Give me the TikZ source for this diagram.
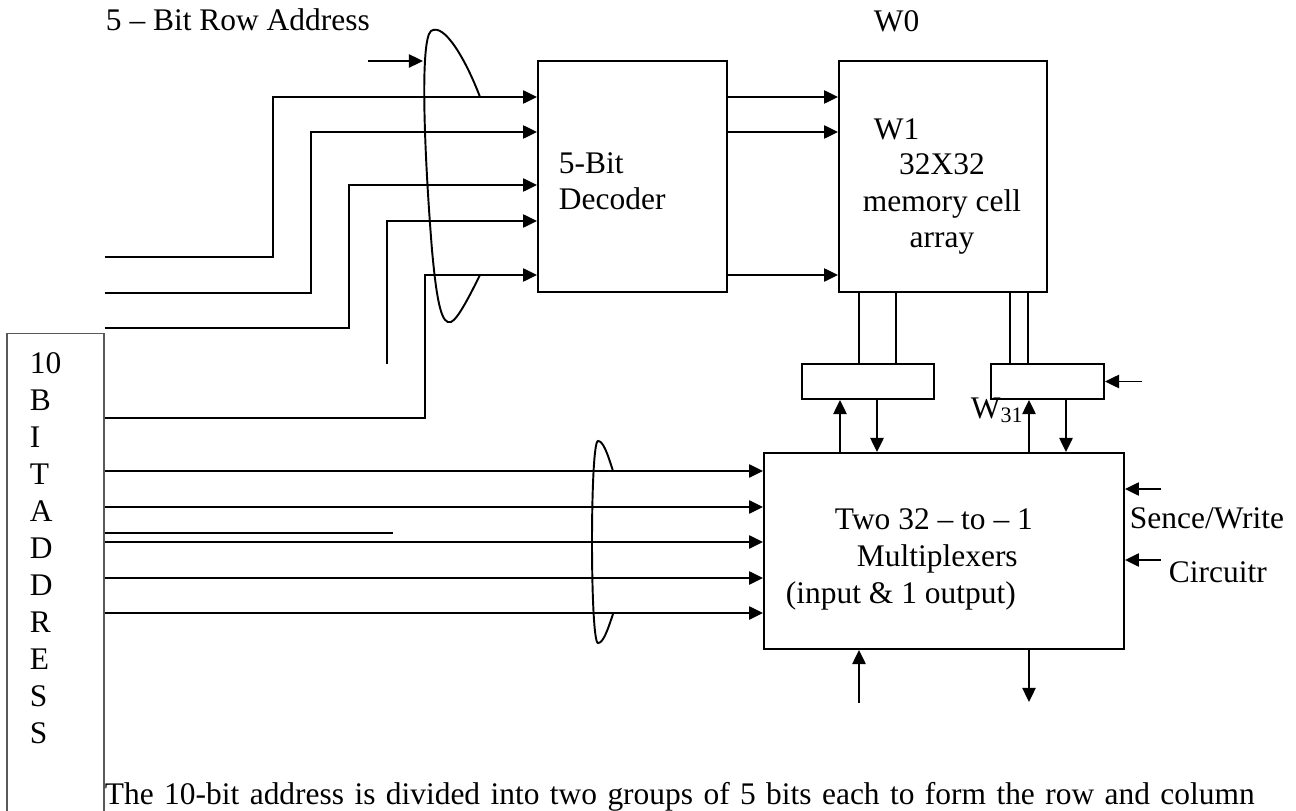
\documentclass[tikz,border=0pt]{standalone}
\usepackage{fontspec}
\setmainfont{Liberation Serif}
\usetikzlibrary{arrows.meta}

\begin{document}
\begin{tikzpicture}[
    x=0.02cm, y=-0.02cm,
    font=\fontsize{17.9}{21}\selectfont,
    line width=1.1pt,
    box/.style={rectangle, draw, minimum height=4.62cm, inner sep=0pt},
    smallbox/.style={rectangle, draw, minimum height=0.7cm, inner sep=0pt},
    arrow/.style={-{Triangle[length=8pt, width=7.5pt]}},
    lbl/.style={anchor=base west, inner sep=0pt}
]
\useasboundingbox (0,0) rectangle (1296,811);

% ==================== ADDRESS REGISTER ====================
\node[rectangle, draw=black!65, line width=0.6pt, minimum width=1.94cm, minimum height=9.94cm] (addr) at (55.5,581.5) {};
\foreach \ch [count=\i from 0] in {10,B,I,T,A,D,D,R,E,S,S}
    \node[lbl] at (29,373+37*\i) {\ch};

% ==================== BLOCKS ====================
\node[box, minimum width=3.78cm] (dec) at (632.5,176.5) {};
\node[box, minimum width=4.16cm] (mem) at (943,176.5) {};
\node[smallbox, minimum width=2.64cm] (sa0) at (868,381.5) {};
\node[smallbox, minimum width=2.26cm] (sa31) at (1047.5,381.5) {};
\node[box, minimum width=7.2cm, minimum height=3.92cm] (mux) at (944,551) {};

% ==================== LABELS ====================
% (base of a multi-line node = its last line)
\node[lbl] (rowlbl) at (105,31) {5 -- Bit Row Address};
\node[lbl] (w0) at (873,32) {W0};
\node[lbl] (w1) at (873,140) {W1};
\node[lbl, align=left] (dectxt) at (558,210) {5-Bit\\Decoder};
\node[lbl, anchor=base, align=center] (memtxt) at (942,248) {32X32\\memory cell\\array};
\node[lbl] (w31) at (970,418) {W\textsubscript{31}};
\node[lbl] (muxa) at (834,529) {Two 32 -- to -- 1};
\node[lbl] (muxb) at (856,566) {Multiplexers};
\node[lbl] (muxc) at (785,603) {(input \& 1 output)};
\node[lbl] (swlbl) at (1129,528) {Sence/Write};
\node[lbl] (crlbl) at (1168,582) {Circuitr};
\node[lbl] (note) at (104,804) {\makebox[23cm][s]{The 10-bit address is divided into two groups of 5 bits each to form the row and column}};

% ==================== ROW ADDRESS ====================
\coordinate (rin) at (368,61);
\coordinate (r4) at (387,364);
\draw[arrow] (rin) -- (423,61);
\draw[arrow] (addr.east |- 0,257) -| (273,97) -- (dec.west |- 0,97);
\draw[arrow] (addr.east |- 0,293) -| (311,132) -- (dec.west |- 0,132);
\draw[arrow] (addr.east |- 0,328) -| (349,185) -- (dec.west |- 0,185);
\draw[arrow] (r4) |- (dec.west |- 0,221);
\draw[arrow] (addr.east |- 0,418) -| (425,275) -- (dec.west |- 0,275);
% bundle loop
\draw (480,97) .. controls (466,60) and (444,22) .. (431,31)
      .. controls (420,40) and (424,150) .. (432,250)
      .. controls (437,305) and (442,325) .. (451,322)
      .. controls (458,319) and (470,295) .. (480,275);

% decoder to array
\foreach \y in {97,132,275}
    \draw[arrow] (dec.east |- 0,\y) -- (mem.west |- 0,\y);

% ==================== COLUMN ADDRESS ====================
\foreach \y in {471,507,542,578,613}
    \draw[arrow] (addr.east |- 0,\y) -- (mux.west |- 0,\y);
\draw (addr.east |- 0,533) -- (393,533);
\draw (613,471) .. controls (607,452) and (603,441) .. (598,441)
      .. controls (590,441) and (590,643) .. (598,643)
      .. controls (603,643) and (607,632) .. (613,614);

% ==================== ARRAY / MUX ====================
\foreach \x in {859,896}
    \draw (\x,0 |- mem.south) -- (\x,0 |- sa0.north);
\foreach \x in {1010,1028}
    \draw (\x,0 |- mem.south) -- (\x,0 |- sa31.north);
\draw[arrow] (840,0 |- mux.north) -- (840,0 |- sa0.south);
\draw[arrow] (877,0 |- sa0.south) -- (877,0 |- mux.north);
\draw[arrow] (1029,0 |- mux.north) -- (1029,0 |- sa31.south);
\draw[arrow] (1066,0 |- sa31.south) -- (1066,0 |- mux.north);

\coordinate (ctl) at (1142,381.5);
\draw[arrow] (ctl) -- (sa31.east);
\coordinate (sw1) at (1161,489);
\coordinate (sw2) at (1161,560);
\draw[arrow] (sw1) -- (mux.east |- sw1);
\draw[arrow] (sw2) -- (mux.east |- sw2);

\coordinate (din) at (859,703);
\coordinate (dout) at (1029,702);
\draw[arrow] (din) -- (din |- mux.south);
\draw[arrow] (dout |- mux.south) -- (dout);

\end{tikzpicture}
\end{document}
